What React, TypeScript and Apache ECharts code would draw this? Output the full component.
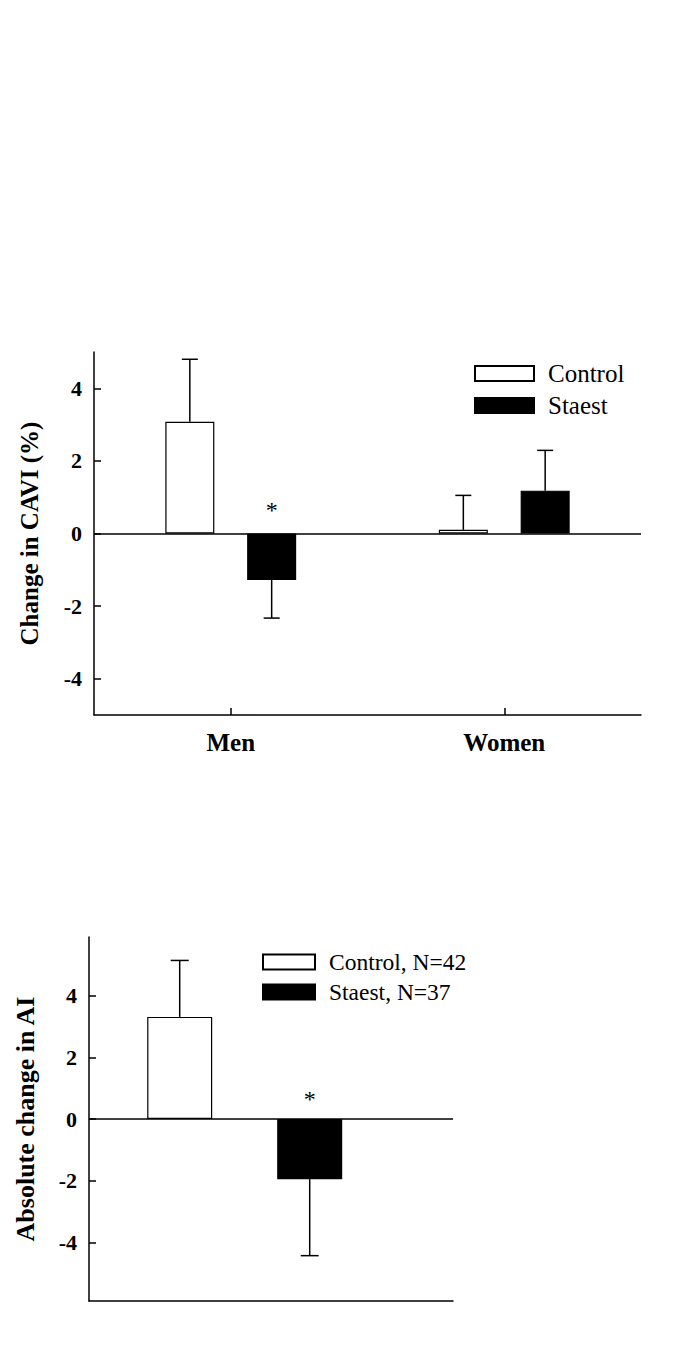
import React, { useEffect, useRef } from "react";
import * as echarts from "echarts";

const FONT = "'Liberation Serif', 'Times New Roman', serif";

// ---- Chart 1: Change in CAVI (%) ----
const groups1 = ["Men", "Women"];
const control1 = [3.08, 0.1];
const controlErr1 = [1.72, 0.95];
const staest1 = [-1.28, 1.18];
const staestErr1 = [1.05, 1.11];
const controlStar1: (number | string)[] = ["-", "-"];
const staestStar1: (number | string)[] = [0.67, "-"];
const yTicks1 = [-4, -2, 0, 2, 4];

// ---- Chart 2: Absolute change in AI ----
const groups2 = ["AI"];
const control2 = [3.31];
const controlErr2 = [1.83];
const staest2 = [-1.95];
const staestErr2 = [2.48];
const controlStar2: (number | string)[] = ["-"];
const staestStar2: (number | string)[] = [0.68];
const yTicks2 = [-4, -2, 0, 2, 4];

const BAR_W1 = 49;
const GAP1 = 0.67;
const BAR_W2 = 65;
const GAP2 = 1.0;

function errData(n: number, c: number[], ce: number[], s: number[], se: number[], cs: any[], ss: any[]) {
  const out: any[] = [];
  for (let i = 0; i < n; i++) {
    out.push([i, c[i], ce[i], 0, cs[i]]);
    out.push([i, s[i], se[i], 1, ss[i]]);
  }
  return out;
}

function makeRender(off: number, cap: number) {
  return (params: any, api: any) => {
    const cat = api.value(0);
    const v = api.value(1);
    const e = api.value(2);
    const slot = api.value(3);
    const sy = api.value(4);
    const base = api.coord([cat, v]);
    const x = base[0] + (slot === 0 ? -off : off);
    const end = api.coord([cat, v >= 0 ? v + e : v - e]);
    const style = { stroke: "#000", lineWidth: 1.5 };
    const children: any[] = [
      { type: "line", shape: { x1: x, y1: base[1], x2: x, y2: end[1] }, style },
      { type: "line", shape: { x1: x - cap, y1: end[1], x2: x + cap, y2: end[1] }, style },
    ];
    if (typeof sy === "number" && !isNaN(sy)) {
      const p = api.coord([cat, sy]);
      children.push({
        type: "text",
        style: {
          text: "*",
          x,
          y: p[1] + 1,
          fill: "#000",
          font: `24px ${FONT}`,
          align: "center",
          verticalAlign: "middle",
        },
      });
    }
    return { type: "group", children };
  };
}

const axisLineStyle = { color: "#000", width: 1.5 };

export default function App() {
  const ref = useRef<HTMLDivElement>(null);
  useEffect(() => {
    if (!ref.current) return;
    const chart = echarts.init(ref.current, null, { renderer: "svg" });
    const zeroLine = {
      silent: true,
      symbol: ["none", "none"],
      label: { show: false },
      lineStyle: { color: "#000", width: 1.5, type: "solid" },
      data: [{ yAxis: 0 }],
      animation: false,
    };
    const yAxisCommon = (ticks: number[], min: number, max: number, name: string, nameGap: number, nameSize: number) => ({
      type: "value",
      min,
      max,
      splitLine: { show: false },
      axisLine: { show: true, onZero: false, lineStyle: axisLineStyle },
      axisTick: { show: true, inside: true, length: 7, customValues: ticks, lineStyle: axisLineStyle },
      axisLabel: {
        customValues: ticks,
        color: "#000",
        fontFamily: FONT,
        fontWeight: "bold",
        fontSize: 22,
        margin: 12,
      },
      name,
      nameLocation: "middle",
      nameGap,
      nameTextStyle: { color: "#000", fontFamily: FONT, fontWeight: "bold", fontSize: nameSize },
    });
    chart.setOption({
      animation: false,
      backgroundColor: "#fff",
      grid: [
        { left: 94, top: 352, width: 547, height: 363 },
        { left: 89, top: 937, width: 364, height: 364 },
        { left: 89, top: 937, width: 311.4, height: 364 },
      ],
      legend: [
        {
          data: ["Control", "Staest"],
          orient: "vertical",
          left: 474,
          top: 361,
          padding: 0,
          itemWidth: 59,
          itemHeight: 15,
          itemGap: 7,
          icon: "rect",
          selectedMode: false,
          textStyle: { fontSize: 25, fontFamily: FONT, color: "#000", padding: [0, 0, 0, 9] },
        },
        {
          data: ["Control, N=42", "Staest, N=37"],
          orient: "vertical",
          left: 262,
          top: 950,
          padding: 0,
          itemWidth: 52,
          itemHeight: 15,
          itemGap: 6,
          icon: "rect",
          selectedMode: false,
          textStyle: { fontSize: 23.5, fontFamily: FONT, color: "#000", padding: [0, 0, 0, 9] },
        },
      ],
      xAxis: [
        {
          gridIndex: 0,
          type: "category",
          data: groups1,
          axisLine: { onZero: false, lineStyle: axisLineStyle },
          axisTick: { show: true, inside: true, alignWithLabel: true, length: 7, lineStyle: axisLineStyle },
          axisLabel: { color: "#000", fontFamily: FONT, fontWeight: "bold", fontSize: 25, margin: 15 },
        },
        {
          gridIndex: 1,
          type: "category",
          data: [""],
          axisLine: { onZero: false, lineStyle: axisLineStyle },
          axisTick: { show: false },
          axisLabel: { show: false },
        },
        { gridIndex: 2, type: "category", data: groups2, show: false },
      ],
      yAxis: [
        { gridIndex: 0, ...yAxisCommon(yTicks1, -5, 5, "Change in CAVI (%)", 52, 25) },
        { gridIndex: 1, ...yAxisCommon(yTicks2, -5.9, 5.9, "Absolute change in AI", 51, 26) },
        { gridIndex: 2, type: "value", min: -5.9, max: 5.9, show: false },
      ],
      series: [
        {
          name: "Control",
          type: "bar",
          xAxisIndex: 0,
          yAxisIndex: 0,
          data: control1,
          barWidth: BAR_W1,
          barGap: `${GAP1 * 100}%`,
          itemStyle: { color: "#fff", borderColor: "#000", borderWidth: 1.2 },
          markLine: zeroLine,
        },
        {
          name: "Staest",
          type: "bar",
          xAxisIndex: 0,
          yAxisIndex: 0,
          data: staest1,
          barWidth: BAR_W1,
          barGap: `${GAP1 * 100}%`,
          itemStyle: { color: "#000", borderColor: "#000", borderWidth: 1.2 },
        },
        {
          type: "custom",
          xAxisIndex: 0,
          yAxisIndex: 0,
          encode: { x: 0, y: 1 },
          data: errData(groups1.length, control1, controlErr1, staest1, staestErr1, controlStar1, staestStar1),
          renderItem: makeRender((BAR_W1 + BAR_W1 * GAP1) / 2, 8),
          z: 5,
        },
        {
          name: "zero2",
          type: "line",
          xAxisIndex: 1,
          yAxisIndex: 1,
          data: [],
          markLine: zeroLine,
        },
        {
          name: "Control, N=42",
          type: "bar",
          xAxisIndex: 2,
          yAxisIndex: 2,
          data: control2,
          barWidth: BAR_W2,
          barGap: `${GAP2 * 100}%`,
          itemStyle: { color: "#fff", borderColor: "#000", borderWidth: 1.2 },
        },
        {
          name: "Staest, N=37",
          type: "bar",
          xAxisIndex: 2,
          yAxisIndex: 2,
          data: staest2,
          barWidth: BAR_W2,
          barGap: `${GAP2 * 100}%`,
          itemStyle: { color: "#000", borderColor: "#000", borderWidth: 1.2 },
        },
        {
          type: "custom",
          xAxisIndex: 2,
          yAxisIndex: 2,
          encode: { x: 0, y: 1 },
          data: errData(groups2.length, control2, controlErr2, staest2, staestErr2, controlStar2, staestStar2),
          renderItem: makeRender((BAR_W2 + BAR_W2 * GAP2) / 2, 9),
          z: 5,
        },
      ],
    });
    return () => chart.dispose();
  }, []);
  return (
    <div
      ref={ref}
      style={{ position: "absolute", left: 0, top: 0, width: 685, height: 1346, background: "#fff" }}
    />
  );
}
